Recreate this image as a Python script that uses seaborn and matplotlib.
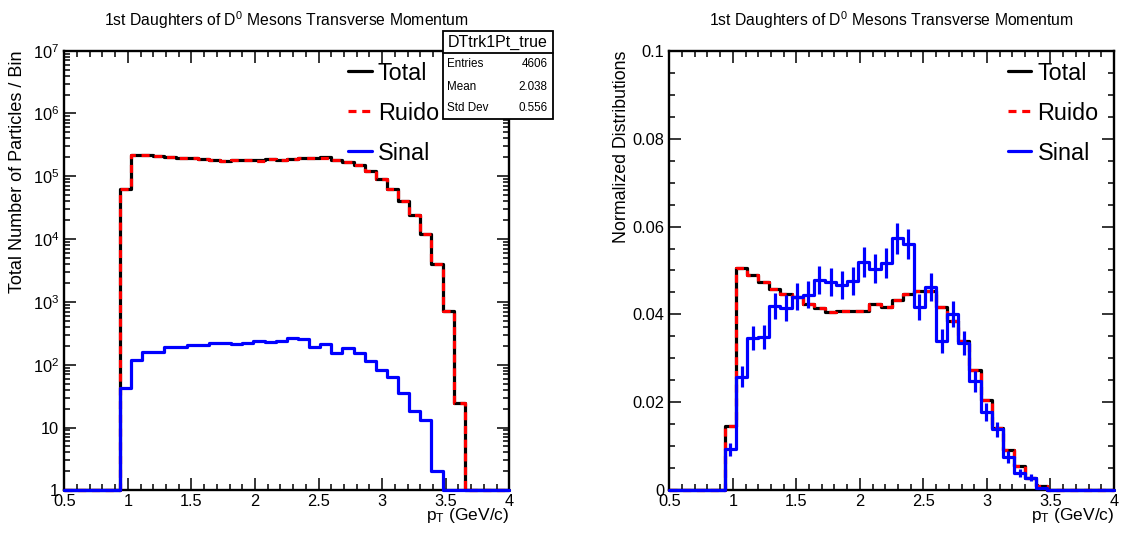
import numpy as np
import pandas as pd
import matplotlib
matplotlib.use("Agg")
import matplotlib.pyplot as plt
import seaborn as sns
from matplotlib.lines import Line2D
from matplotlib.patches import Rectangle
from matplotlib.ticker import MultipleLocator, LogLocator, FuncFormatter, NullFormatter

# ---------------- data ----------------
x_min, x_max, n_bins = 0.5, 4.0, 40

total_counts = [0, 0, 0, 0, 0,
                63900, 222000, 215000, 207600, 200600,
                196200, 192700, 186200, 181800, 177800,
                179100, 179100, 178700, 186200, 182600,
                190100, 196200, 198900, 199300, 182600,
                169500, 148900, 120500, 89800, 62200,
                40700, 24100, 12000, 3950, 720,
                25, 0, 0, 0, 0]

signal_counts = [0, 0, 0, 0, 0,
                 43, 119, 160, 161, 193,
                 191, 203, 205, 220, 218,
                 215, 219, 239, 232, 238,
                 264, 258, 192, 213, 156,
                 185, 154, 114, 82, 64,
                 35, 18, 13, 2, 0,
                 0, 0, 0, 0, 0]

series_labels = ["Total", "Ruido", "Sinal"]
series_colors = ["black", "red", "blue"]

title_text = "1st Daughters of D$^{0}$ Mesons Transverse Momentum"
left_ylabel = "Total Number of Particles / Bin"
right_ylabel = "Normalized Distributions"
x_label = "p$_{\\mathrm{T}}$ (GeV/c)"

stats_name = "DTtrk1Pt_true"
stats_keys = ["Entries", "Mean", "Std Dev"]
stats_vals = ["4606", "2.038", "0.556"]

# ---------------- derived ----------------
edges = np.linspace(x_min, x_max, n_bins + 1)
centers = 0.5 * (edges[:-1] + edges[1:])
total = np.array(total_counts, dtype=float)
signal = np.array(signal_counts, dtype=float)
noise = total - signal

# ---------------- style ----------------
sns.set_style("white")
plt.rcParams["font.family"] = ["Liberation Sans", "DejaVu Sans"]
plt.rcParams["mathtext.fontset"] = "custom"
plt.rcParams["mathtext.rm"] = "Liberation Sans"
plt.rcParams["mathtext.it"] = "Liberation Sans:italic"
plt.rcParams["mathtext.default"] = "regular"
plt.rcParams["text.color"] = "black"
plt.rcParams["axes.labelcolor"] = "black"
plt.rcParams["xtick.color"] = "black"
plt.rcParams["ytick.color"] = "black"

W, H = 1123, 535
fig = plt.figure(figsize=(W / 100, H / 100), dpi=100)
fig.patch.set_facecolor("white")

ax_l = fig.add_axes([64.3 / W, 1 - 490.3 / H, 445.0 / W, 439.6 / H])
ax_r = fig.add_axes([669.3 / W, 1 - 490.3 / H, 444.7 / W, 439.6 / H])

LW = 2.3
DASH = (0, (2.5, 1.8))


def step_hist(ax, values, color, ls="-", z=2):
    df = pd.DataFrame({"x": centers, "w": values})
    sns.histplot(data=df, x="x", weights="w", bins=n_bins, binrange=(x_min, x_max),
                 element="step", fill=False, color=color, linewidth=LW,
                 linestyle=ls, ax=ax, clip_on=False, zorder=z)


# ----- left panel: counts, log scale -----
floor = lambda a: np.where(a > 0, a, 1.0)
step_hist(ax_l, floor(total), series_colors[0], "-", 2)
step_hist(ax_l, floor(noise), series_colors[1], DASH, 3)
step_hist(ax_l, floor(signal), series_colors[2], "-", 4)
ax_l.set_yscale("log")
ax_l.set_ylim(1, 1e7)
ax_l.set_xlim(x_min, x_max)

# ----- right panel: normalized -----
t_n = total / total.sum()
n_n = noise / noise.sum()
s_n = signal / signal.sum()
step_hist(ax_r, t_n, series_colors[0], "-", 2)
step_hist(ax_r, n_n, series_colors[1], DASH, 3)
step_hist(ax_r, s_n, series_colors[2], "-", 4)
mask = signal > 0
ax_r.errorbar(centers[mask], s_n[mask], yerr=np.sqrt(signal[mask]) / signal.sum(),
              fmt="none", ecolor="blue", elinewidth=LW, capsize=0, zorder=4)
ax_r.set_ylim(0, 0.1)
ax_r.set_xlim(x_min, x_max)


def log_fmt(v, pos):
    e = int(round(np.log10(v)))
    if e == 0:
        return "1"
    if e == 1:
        return "10"
    return "$10^{%d}$" % e


for ax in (ax_l, ax_r):
    for s in ax.spines.values():
        s.set_visible(True)
        s.set_linewidth(1.7)
        s.set_color("black")
    ax.tick_params(which="both", direction="in", top=True, right=True,
                   bottom=True, left=True, width=1.1, color="black")
    ax.tick_params(which="major", length=8.6, labelsize=11.8)
    ax.tick_params(which="minor", length=4.3)
    ax.tick_params(axis="x", pad=2.5)
    ax.tick_params(axis="y", pad=3.8)
    ax.xaxis.set_major_locator(MultipleLocator(0.5))
    ax.xaxis.set_minor_locator(MultipleLocator(0.1))
    ax.xaxis.set_major_formatter(FuncFormatter(lambda v, p: "%g" % v))
    ax.set_xlabel(x_label, fontsize=12.5, loc="right")
    ax.xaxis.set_label_coords(1.0, -0.036)
    ax.grid(False)

ax_l.yaxis.set_major_locator(LogLocator(base=10, numticks=20))
ax_l.yaxis.set_minor_locator(LogLocator(base=10, subs=np.arange(2, 10), numticks=20))
ax_l.yaxis.set_major_formatter(FuncFormatter(log_fmt))
ax_l.yaxis.set_minor_formatter(NullFormatter())
ax_r.yaxis.set_major_locator(MultipleLocator(0.02))
ax_r.yaxis.set_minor_locator(MultipleLocator(0.005))
ax_r.yaxis.set_major_formatter(FuncFormatter(lambda v, p: "%g" % round(v, 3)))

ax_l.set_ylabel(left_ylabel, fontsize=13.0, loc="top")
ax_l.yaxis.set_label_coords(-0.085, 1.0)
ax_r.set_ylabel(right_ylabel, fontsize=12.8, loc="top")
ax_r.yaxis.set_label_coords(-0.088, 1.0)

for ax in (ax_l, ax_r):
    ax.text(0.5, 1 + (50.7 - 26) / 439.6, title_text, transform=ax.transAxes,
            ha="center", va="baseline", fontsize=11.3)

# ----- legends -----
def make_handles():
    return [Line2D([], [], color=series_colors[0], lw=LW),
            Line2D([], [], color=series_colors[1], lw=LW, linestyle=DASH),
            Line2D([], [], color=series_colors[2], lw=LW)]


for ax, x0 in ((ax_l, 348.3), (ax_r, 1008.0)):
    ax.legend(make_handles(), series_labels, loc="upper left",
              bbox_to_anchor=(x0 / W, 1 - 61.5 / H), bbox_transform=fig.transFigure,
              frameon=False, fontsize=16.8, handlelength=1.0, handletextpad=0.26,
              labelspacing=0.73, borderpad=0, borderaxespad=0)

# ----- stats box -----
bx0, bx1, by0, by1, bdiv = 443.3, 552.7, 31.0, 119.0, 52.7
fig.add_artist(Rectangle((bx0 / W, 1 - by1 / H), (bx1 - bx0) / W, (by1 - by0) / H,
                         transform=fig.transFigure, facecolor="white",
                         edgecolor="black", linewidth=1.3, zorder=5))
fig.add_artist(Line2D([bx0 / W, bx1 / W], [1 - bdiv / H] * 2, transform=fig.transFigure,
                      color="black", linewidth=1.3, zorder=6))
fig.text((bx0 + bx1) / 2 / W, 1 - 42 / H, stats_name, ha="center", va="center",
         fontsize=11.5, zorder=7)
for yy, k, v in zip([64.3, 86.7, 108.3], stats_keys, stats_vals):
    fig.text(446.7 / W, 1 - yy / H, k, ha="left", va="center", fontsize=8.4, zorder=7)
    fig.text(547.7 / W, 1 - yy / H, v, ha="right", va="center", fontsize=8.4, zorder=7)

fig.savefig("out.png", dpi=100, facecolor="white")
